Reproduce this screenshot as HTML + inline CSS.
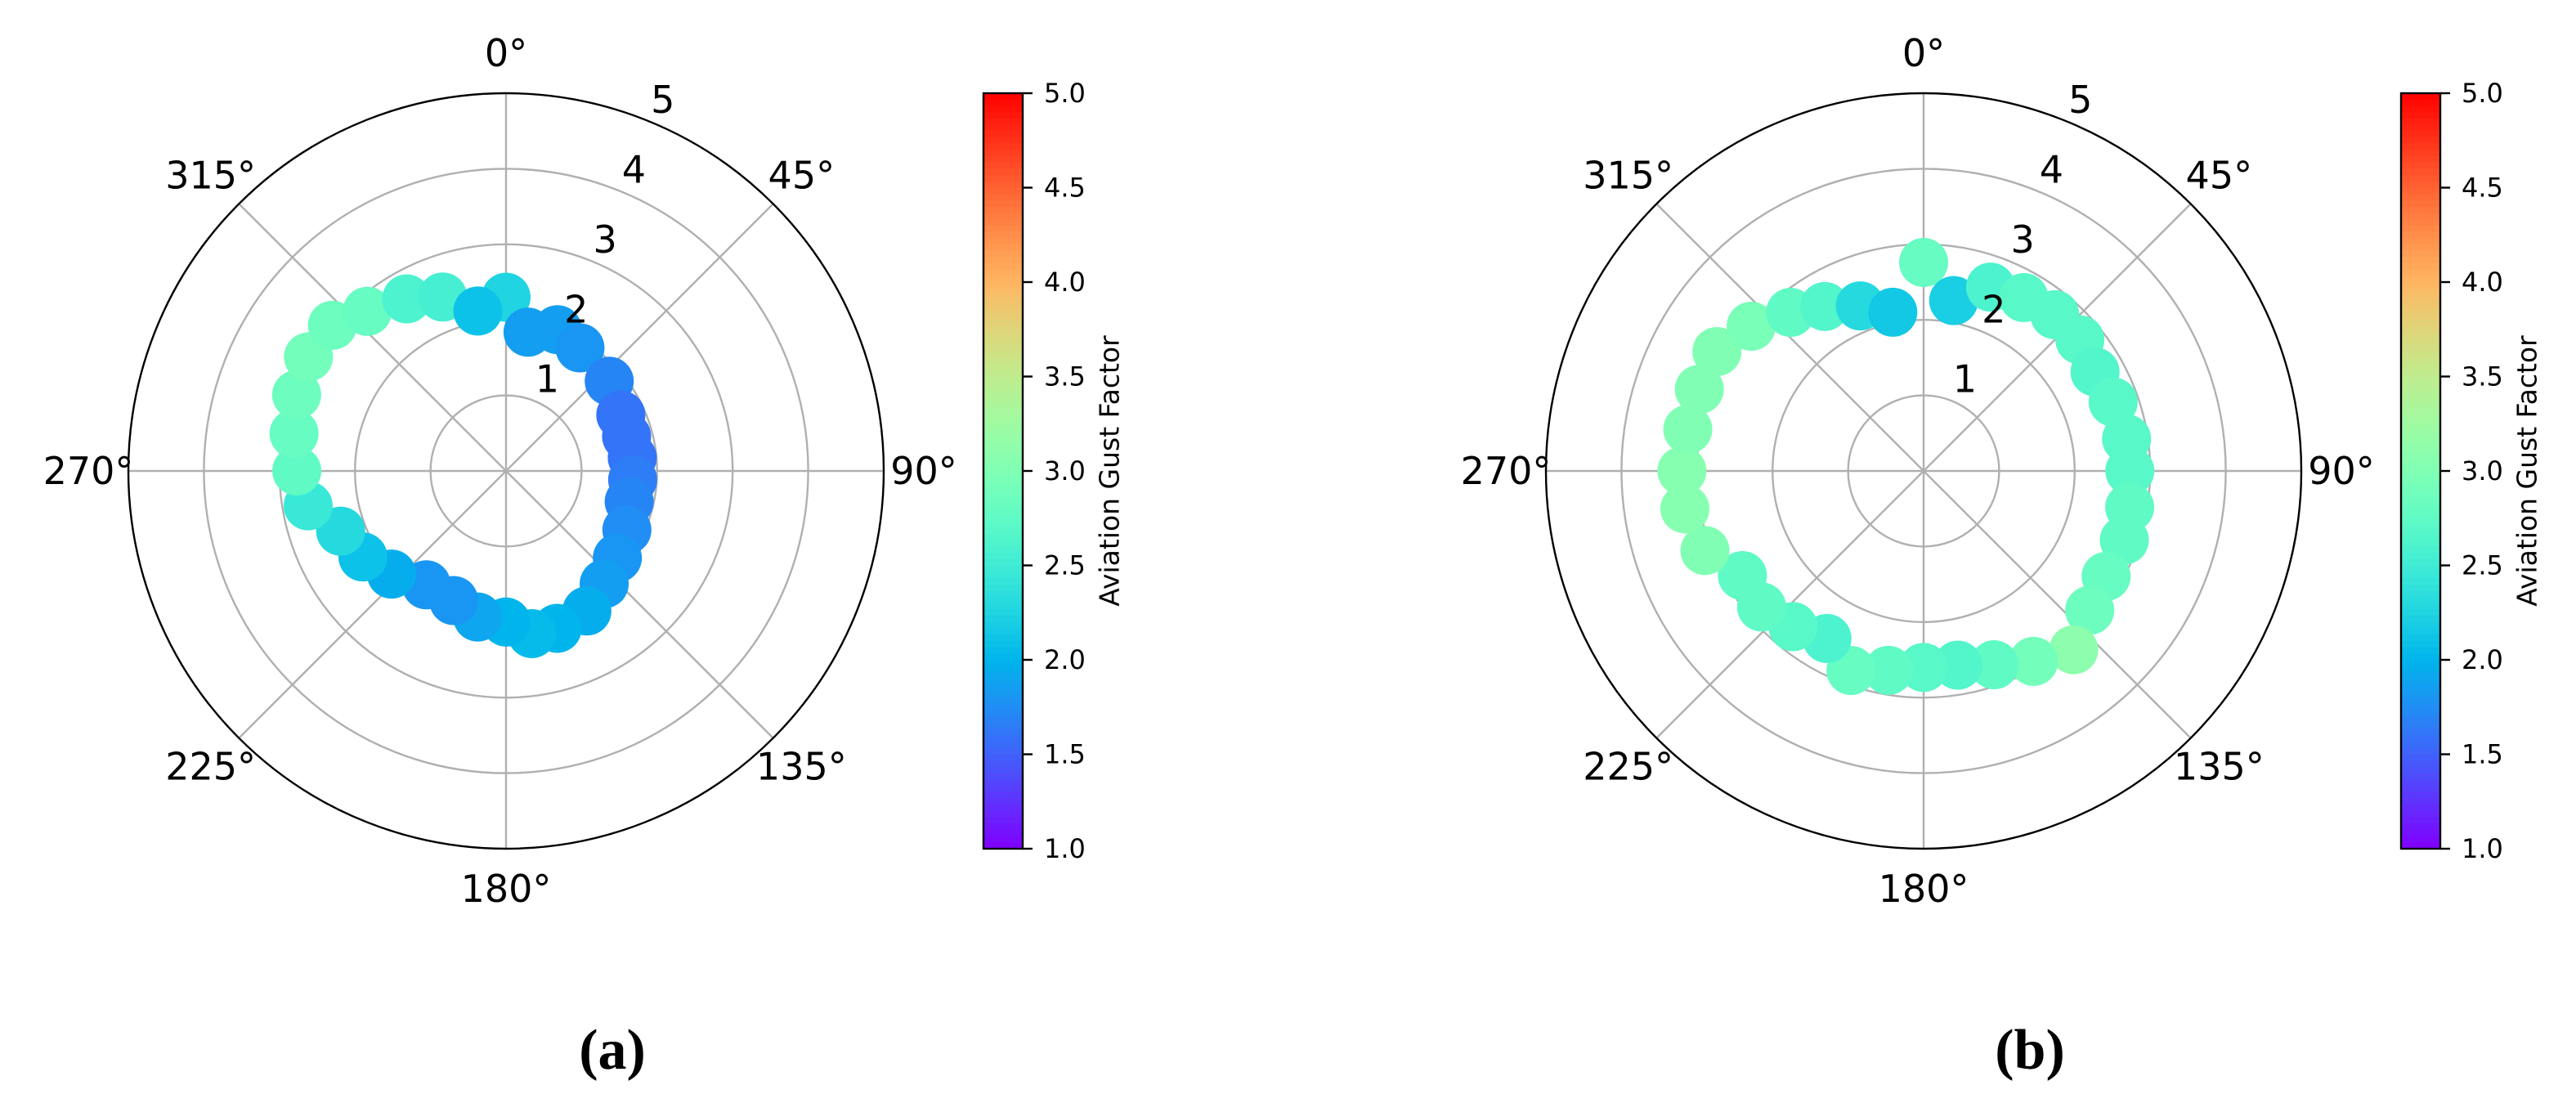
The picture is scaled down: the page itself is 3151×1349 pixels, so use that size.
<!DOCTYPE html>
<html><head><meta charset="utf-8">
<style>
html,body{margin:0;padding:0;background:#fff;}
svg{display:block;}
text{font-family:"DejaVu Sans","Liberation Sans",sans-serif;fill:#000;}
</style></head>
<body>
<svg id="fig" width="3151" height="1349" viewBox="0 0 3151 1349" xmlns="http://www.w3.org/2000/svg">
<text x="749" y="1307" style="font-family:'Liberation Serif',serif;font-size:70px;font-weight:bold" text-anchor="middle">(a)</text>
<text x="2483" y="1307" style="font-family:'Liberation Serif',serif;font-size:70px;font-weight:bold" text-anchor="middle">(b)</text>
</svg>
<script>
// Panel (a) data
const thetaA = [0,9,20,31,49,64,74,84,94,104,116,128,139,150,162,171,180,191,202,215,228,239,250,260,270,280,290,300,310,319,330,340,350];
const radiusA = [2.3,1.86,1.99,1.9,1.81,1.69,1.66,1.68,1.68,1.68,1.78,1.87,1.98,2.14,2.19,2.18,2.0,1.97,1.85,1.84,2.04,2.21,2.33,2.66,2.77,2.85,2.95,3.02,3.0,2.8,2.63,2.45,2.15];
const gustA = [2.25,1.85,1.85,1.8,1.7,1.6,1.6,1.6,1.65,1.7,1.75,1.8,1.85,1.95,2.0,2.05,2.0,1.9,1.8,1.8,1.95,2.1,2.3,2.45,2.75,2.8,2.85,2.9,2.85,2.8,2.6,2.55,2.1];
// Panel (b) data
const thetaB = [0,10,20,30,40,50,60,70,81,90,100,109,120,130,140,150,160,170,180,190,200,210,220,230,240,250,261,270,280,290,300,310,320,329,339,349];
const radiusB = [2.76,2.29,2.59,2.65,2.7,2.7,2.62,2.67,2.72,2.73,2.77,2.81,2.79,2.87,3.09,2.91,2.73,2.61,2.6,2.68,2.81,2.56,2.69,2.8,2.77,3.08,3.2,3.2,3.17,3.16,3.16,2.98,2.74,2.54,2.34,2.14];
const gustB = [2.8,2.2,2.6,2.7,2.7,2.7,2.65,2.7,2.7,2.7,2.75,2.75,2.8,2.85,3.1,2.9,2.75,2.65,2.7,2.75,2.8,2.6,2.7,2.75,2.75,3.0,3.05,3.05,3.0,3.0,3.0,2.95,2.75,2.65,2.3,2.15];
const rTicks = [1,2,3,4,5];
const angleTicks = [0,45,90,135,180,225,270,315];
const cbTicks = [1.0,1.5,2.0,2.5,3.0,3.5,4.0,4.5,5.0];
const R_MAX = 5, V_MIN = 1, V_MAX = 5;

const NS = 'http://www.w3.org/2000/svg';
const svg = document.getElementById('fig');
function mk(tag, attrs, parent){
  const e = document.createElementNS(NS, tag);
  for (const k in attrs) e.setAttribute(k, attrs[k]);
  (parent||svg).appendChild(e);
  return e;
}
function rainbow(v){
  let x = (v - V_MIN)/(V_MAX - V_MIN); x = Math.max(0, Math.min(1, x));
  const r = Math.min(1, Math.abs(2*x - 0.5));
  const g = Math.sin(Math.PI*x);
  const b = Math.cos(Math.PI*x/2);
  return `rgb(${Math.round(r*255)},${Math.round(g*255)},${Math.round(b*255)})`;
}
function panel(cx, cy, R, thetas, radii, vals, key){
  const g = mk('g', {});
  
  
  const rs = r => r / R_MAX * R;
  const px = (t, r) => cx + rs(r) * Math.sin(t*Math.PI/180);
  const py = (t, r) => cy - rs(r) * Math.cos(t*Math.PI/180);
  rTicks.slice(0, -1).forEach(r => {
    const c = mk('circle', {cx, cy, r: rs(r), fill: 'none', stroke: '#b0b0b0', 'stroke-width': 2.4}, g);
    
    
  });
  angleTicks.forEach(t => {
    const l = mk('line', {x1: cx, y1: cy, x2: px(t, R_MAX), y2: py(t, R_MAX), stroke: '#b0b0b0', 'stroke-width': 2.4}, g);
    
    
  });
  thetas.forEach((t, i) => {
    const c = mk('circle', {cx: px(t, radii[i]), cy: py(t, radii[i]), r: 30, fill: rainbow(vals[i])}, g);
    
    
  });
  const o = mk('circle', {cx, cy, r: R, fill: 'none', stroke: '#000', 'stroke-width': 2.4}, g);
  
  
  angleTicks.forEach(t => {
    const tx = mk('text', {x: cx + 511*Math.sin(t*Math.PI/180), y: cy - 511*Math.cos(t*Math.PI/180), 'text-anchor': 'middle', 'dominant-baseline': 'central', 'font-size': 46}, g);
    tx.textContent = t + '°';
    
    
  });
  rTicks.forEach(r => {
    const tx = mk('text', {x: px(22.5, r) + 15, y: py(22.5, r) - 27, 'text-anchor': 'middle', 'dominant-baseline': 'central', 'font-size': 46}, g);
    tx.textContent = r;
    
    
  });
  const bx = cx + 584, bw = 48, top = cy - R, bot = cy + R;
  const cb = mk('g', {}, svg);
  
  
  const N = 120, h = (bot - top) / N;
  for (let i = 0; i < N; i++){
    const v = V_MAX - (i + 0.5) / N * (V_MAX - V_MIN);
    mk('rect', {x: bx, y: top + i*h, width: bw, height: h + 0.8, fill: rainbow(v)}, cb);
  }
  const fr = mk('rect', {x: bx, y: top, width: bw, height: bot - top, fill: 'none', stroke: '#000', 'stroke-width': 2.4}, cb);
  
  
  const vy = v => bot - (v - V_MIN) / (V_MAX - V_MIN) * (bot - top);
  cbTicks.forEach(v => {
    mk('line', {x1: bx + bw, x2: bx + bw + 12, y1: vy(v), y2: vy(v), stroke: '#000', 'stroke-width': 2.4}, cb);
    const tx = mk('text', {x: bx + bw + 26, y: vy(v), 'dominant-baseline': 'central', 'font-size': 32}, cb);
    tx.textContent = v.toFixed(1);
    
    
  });
  const lx = bx + 154, ly = cy;
  const tl = mk('text', {x: lx, y: ly, 'text-anchor': 'middle', 'dominant-baseline': 'central', 'font-size': 33, transform: `rotate(-90 ${lx} ${ly})`}, cb);
  tl.textContent = 'Aviation Gust Factor';
  
  
}
panel(619, 576, 462, thetaA, radiusA, gustA, 'a');
panel(2353, 576, 462, thetaB, radiusB, gustB, 'b');
</script>
</body></html>
